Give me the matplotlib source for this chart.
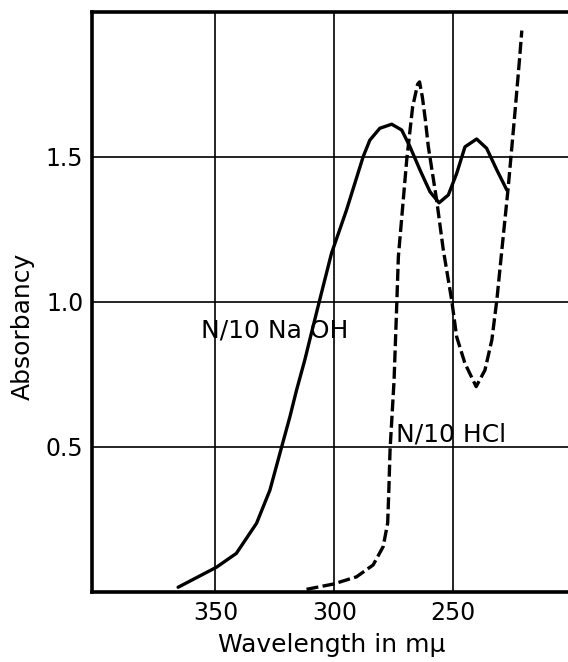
import matplotlib
matplotlib.use("Agg")
import matplotlib.pyplot as plt


OUT_PATH = "out.png"

# N/10 NaOH (solid curve): wavelength in m-mu, absorbancy
naoh_wl = [365.7, 349.6, 341.2, 332.7, 327.1, 322.2, 318.7, 315.9, 312.4, 309.7,
           306.2, 301.2, 294.9, 287.9, 285.1, 280.9, 275.9, 271.7, 268.2, 264.0,
           259.8, 256.0, 252.1, 248.6, 245.1, 240.2, 236.0, 231.7, 227.5]
naoh_abs = [0.015, 0.084, 0.132, 0.236, 0.350, 0.498, 0.603, 0.695, 0.800, 0.890,
            1.005, 1.167, 1.316, 1.500, 1.557, 1.598, 1.612, 1.592, 1.534, 1.454,
            1.379, 1.341, 1.368, 1.442, 1.534, 1.561, 1.529, 1.454, 1.385]

# N/10 HCl (dashed curve)
hcl_wl = [311.7, 300.5, 290.7, 283.7, 279.5, 277.6, 277.1, 276.6, 274.9, 273.8,
          273.1, 269.6, 267.1, 265.0, 264.2, 263.0, 261.8, 260.5, 257.0, 254.2,
          250.7, 248.6, 245.1, 240.4, 236.7, 233.8, 231.7, 229.6, 226.9, 224.0,
          222.2, 221.2]
hcl_abs = [0.008, 0.026, 0.051, 0.092, 0.155, 0.236, 0.350, 0.488, 0.730, 0.985,
           1.155, 1.488, 1.672, 1.750, 1.758, 1.705, 1.630, 1.534, 1.350, 1.178,
           1.006, 0.879, 0.787, 0.707, 0.764, 0.868, 1.006, 1.178, 1.396, 1.661,
           1.833, 1.935]

x_ticks = [350, 300, 250]
x_tick_labels = ["350", "300", "250"]
y_ticks = [0.5, 1.0, 1.5]
y_tick_labels = ["0.5", "1.0", "1.5"]


def main():
    fig = plt.figure(figsize=(5.68, 6.62), dpi=100)
    ax = fig.add_axes([0.1615, 0.1063, 0.846, 0.876])

    ax.plot(naoh_wl, naoh_abs, color="black", lw=2.4,
            solid_capstyle="round", solid_joinstyle="round")
    ax.plot(hcl_wl, hcl_abs, color="black", lw=2.4,
            linestyle=(0, (3.6, 1.3)), dash_joinstyle="round")

    ax.set_xlim(402, 200)
    ax.set_ylim(0, 2.0)

    ax.set_xticks(x_ticks)
    ax.set_xticklabels(x_tick_labels)
    ax.set_yticks(y_ticks)
    ax.set_yticklabels(y_tick_labels)
    ax.tick_params(length=0, labelsize=17)
    ax.tick_params(axis="x", pad=7)
    ax.tick_params(axis="y", pad=6)

    ax.grid(True, color="black", lw=1.2)
    ax.set_axisbelow(True)

    for side in ["left", "bottom", "top"]:
        ax.spines[side].set_linewidth(2.6)
    ax.spines["right"].set_visible(False)

    ax.text(356, 0.90, "N/10 Na OH", fontsize=18, ha="left", va="center")
    ax.text(274.3, 0.517, "N/10 HCl", fontsize=18, ha="left", va="baseline")

    ax.set_xlabel("Wavelength in m\u03bc", fontsize=18)
    ax.set_ylabel("Absorbancy", fontsize=18)
    ax.xaxis.set_label_coords(0.5, -0.072)
    ax.yaxis.set_label_coords(-0.119, 0.458)

    fig.savefig(OUT_PATH, dpi=100)
    plt.close(fig)


if __name__ == "__main__":
    main()
